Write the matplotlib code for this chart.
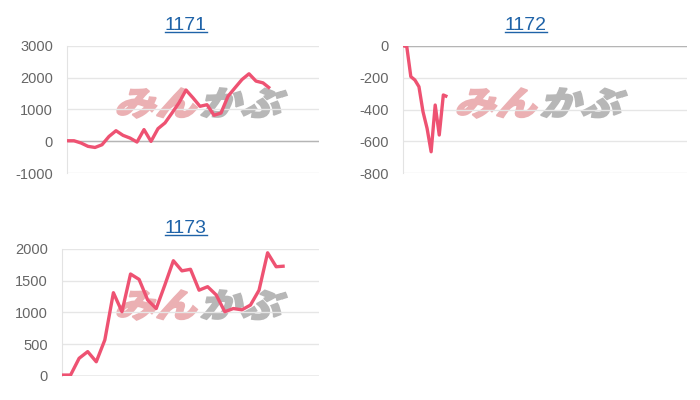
import matplotlib
matplotlib.use("Agg")
import matplotlib.pyplot as plt
from matplotlib.textpath import TextPath
from matplotlib.font_manager import FontProperties
from matplotlib.patches import PathPatch
from matplotlib.transforms import Affine2D, IdentityTransform
from matplotlib.lines import Line2D

# Data
titles = ["1171", "1172", "1173"]
vals_1171 = [20, 20, -50, -155, -190, -105, 155, 335, 190, 105, -20, 370, 0, 400,
             580, 890, 1210, 1610, 1365, 1100, 1150, 820, 890, 1415, 1680, 1940,
             2120, 1890, 1835, 1660]
vals_1172 = [0, -5, -194, -215, -257, -414, -518, -665, -372, -560, -309, -320]
vals_1173 = [10, 10, 275, 380, 220, 565, 1310, 1010, 1605, 1520, 1195, 1060, 1430,
             1815, 1655, 1680, 1350, 1405, 1275, 1010, 1060, 1040, 1115, 1350, 1940,
             1720, 1730]
ticks_1171 = [-1000, 0, 1000, 2000, 3000]
ticks_1172 = [-800, -600, -400, -200, 0]
ticks_1173 = [0, 500, 1000, 1500, 2000]
x_span = [36, 70, 30]

W, H = 700, 400
LINE = "#ee5272"
TICK = "#666666"
LINK = "#1f63a8"

plt.rcParams["font.family"] = ["Liberation Sans", "DejaVu Sans"]
plt.rcParams["axes.unicode_minus"] = False
fig = plt.figure(figsize=(W / 100, H / 100), dpi=100)

# (left, top, right, bottom) in pixels from top-left
boxes = [(67, 45.7, 319, 173.3), (402.7, 45.7, 687, 173.3), (62, 249, 319, 375.7)]
title_pos = [(185.5, 30), (525.5, 30), (185.5, 233)]
mark_pos = [(202, 103), (542, 103), (202, 305)]
series = [vals_1171, vals_1172, vals_1173]
ticks = [ticks_1171, ticks_1172, ticks_1173]


def watermark(cx, cy):
    fp = FontProperties(family="Noto Sans CJK JP", weight="black")
    p1 = TextPath((0, 0), "みん", size=40, prop=fp)
    w1 = p1.get_extents().x1
    p2 = TextPath((w1 + 4, 0), "かぶ", size=40, prop=fp)
    ext = p1.get_extents().union([p1.get_extents(), p2.get_extents()])
    tw, th = 165, 30
    tr = (Affine2D()
          .translate(-(ext.x0 + ext.width / 2), -(ext.y0 + ext.height / 2))
          .scale(tw / ext.width, th / ext.height)
          .skew_deg(18, 0)
          .translate(cx, H - cy))
    for p, c in [(p1, "#ebb0b3"), (p2, "#b7b7b7")]:
        patch = PathPatch(tr.transform_path(p), facecolor=c, edgecolor=c, lw=1.2,
                          transform=IdentityTransform(), zorder=-1)
        fig.add_artist(patch)


for i in range(3):
    l, t, r, b = boxes[i]
    ax = fig.add_axes([l / W, 1 - b / H, (r - l) / W, (b - t) / H])
    ax.set_facecolor("none")
    vals = series[i]
    ax.plot(range(len(vals)), vals, color=LINE, lw=2.4, zorder=3,
            solid_joinstyle="round", solid_capstyle="butt")
    ax.set_xlim(0, x_span[i])
    ax.set_ylim(ticks[i][0], ticks[i][-1])
    ax.set_yticks(ticks[i])
    ax.set_xticks([])
    ax.grid(axis="y", color="#e6e6e6", lw=1, zorder=0)
    ax.set_axisbelow(True)
    ax.axhline(0, color="#b5b5b5", lw=1, zorder=1)
    for s in ["top", "right", "bottom"]:
        ax.spines[s].set_visible(False)
    ax.spines["left"].set_color("#e3e3e3")
    ax.tick_params(axis="y", length=0, pad=10, labelcolor=TICK, labelsize=10.5)
    watermark(*mark_pos[i])

texts = []
for i in range(3):
    x, y = title_pos[i]
    texts.append(fig.text(x / W, 1 - y / H, titles[i], ha="center", va="baseline",
                          color=LINK, fontsize=14))

fig.canvas.draw()
renderer = fig.canvas.get_renderer()
for i, txt in enumerate(texts):
    bb = txt.get_window_extent(renderer)
    y = H - (title_pos[i][1] + 2)
    fig.add_artist(Line2D([bb.x0, bb.x1], [y, y], color=LINK, lw=1.0,
                          transform=IdentityTransform()))

fig.savefig("out.png", dpi=100)
